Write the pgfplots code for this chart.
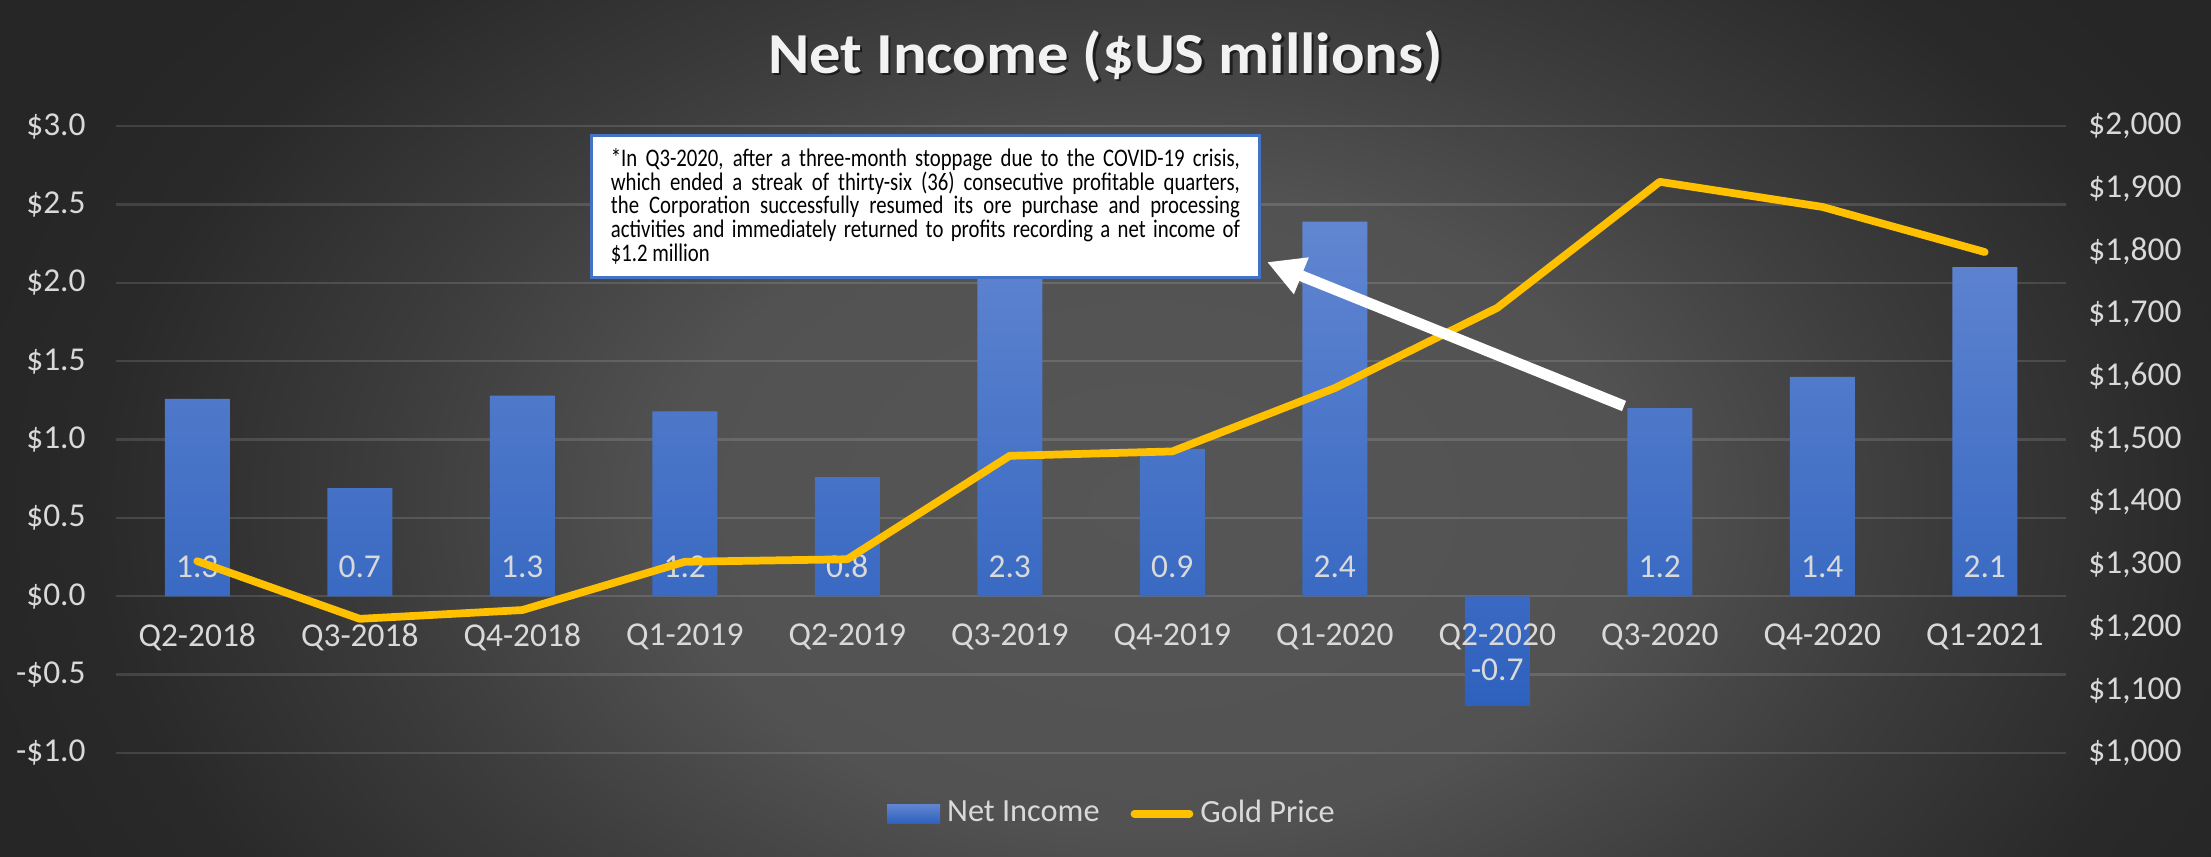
\documentclass[border=0pt]{standalone}
\usepackage{pgfplots}
\pgfplotsset{compat=1.18}
\usepackage{pgfplotstable}
\usepackage{fontspec}
\setmainfont{Carlito}
\newfontfamily\boxfont[FakeStretch=0.82]{Carlito}
\newfontfamily\titlefont[FakeStretch=1.08]{Carlito}
\usetikzlibrary{arrows.meta}

\definecolor{bgDark}{HTML}{262626}
\definecolor{bgMid}{HTML}{3C3C3C}
\definecolor{bgLight}{HTML}{565656}
\definecolor{barTop}{HTML}{6186D1}
\definecolor{barBot}{HTML}{2E61BE}
\definecolor{gold}{HTML}{FFC000}
\definecolor{ticktext}{HTML}{D9D9D9}
\definecolor{titletext}{HTML}{F2F2F2}
\definecolor{boxblue}{HTML}{4472C4}

\pgfdeclareradialshading{chartbg}{\pgfpoint{0bp}{0bp}}{%
  color(0bp)=(bgLight); color(10bp)=(bgLight!85!bgMid);
  color(16bp)=(bgMid); color(22bp)=(bgDark!85!bgMid);
  color(25bp)=(bgDark); color(50bp)=(bgDark)}

% quarter index, net income ($M), label height, gold price ($/oz)
\pgfplotstableread{
x val pos gold
0 1.26 0.19 1306
1 0.69 0.19 1214
2 1.28 0.19 1228
3 1.18 0.19 1305
4 0.76 0.19 1309
5 2.30 0.19 1474
6 0.94 0.19 1481
7 2.39 0.19 1582
8 -0.70 -0.47 1710
9 1.20 0.19 1911
10 1.40 0.19 1871
11 2.10 0.19 1799
}\quarterly

\begin{document}
\begin{tikzpicture}
\useasboundingbox (0,0) rectangle (22.11,8.56);
\begin{scope}
  \clip (0,0) rectangle (22.11,8.56);
  \shade[shading=chartbg] (-0.5,-4.5) rectangle (23.5,11.5);
\end{scope}

% title
\node[text=black, opacity=0.55, font=\titlefont\fontsize{16.5}{18}\selectfont\bfseries, anchor=base]
  at (11.08,7.81) {Net Income (\$US millions)};
\node[text=titletext, font=\titlefont\fontsize{16.5}{18}\selectfont\bfseries, anchor=base]
  at (11.055,7.83) {Net Income (\$US millions)};

\begin{axis}[
    at={(1.16cm,1.03cm)}, anchor=south west,
    scale only axis, width=19.5cm, height=6.27cm,
    xmin=-0.5, xmax=11.5, ymin=-1, ymax=3,
    axis x line*=middle, axis y line*=left,
    axis line style={draw=none},
    major tick length=0,
    xtick=\empty,
    ytick={-1,-0.5,...,3},
    yticklabels={-\$1.0,-\$0.5,\$0.0,\$0.5,\$1.0,\$1.5,\$2.0,\$2.5,\$3.0},
    ymajorgrids,
    major grid style={white, opacity=0.13, line width=0.7pt},
    tick label style={text=ticktext, font=\fontsize{9.5}{11}\selectfont},
    y tick label style={xshift=-1.8mm},
    /pgf/number format/assume math mode=true,
    clip=false,
  ]
  \addplot[ybar, bar width=0.65cm, draw=none, top color=barTop, bottom color=barBot]
    table[x=x, y=val] {\quarterly};
  \addplot[draw=none, mark=none,
    nodes near coords={\pgfmathprintnumber[fixed, fixed zerofill, precision=1, assume math mode=true]{\pgfplotspointmeta}},
    nodes near coords align={anchor=center},
    every node near coord/.append style={text=ticktext, font=\fontsize{9.5}{11}\selectfont, anchor=center},
    point meta=explicit]
    table[x=x, y=pos, meta=val] {\quarterly};
\end{axis}

% second axis: gold price, and the quarter labels drawn over the bars
\begin{axis}[
    at={(1.16cm,1.03cm)}, anchor=south west,
    scale only axis, width=19.5cm, height=6.27cm,
    xmin=-0.5, xmax=11.5, ymin=1000, ymax=2000,
    axis x line*=bottom, axis y line*=right,
    axis line style={draw=none},
    major tick length=0,
    xtick={0,...,11},
    xticklabels={Q2-2018,Q3-2018,Q4-2018,Q1-2019,Q2-2019,Q3-2019,Q4-2019,Q1-2020,Q2-2020,Q3-2020,Q4-2020,Q1-2021},
    x tick label style={yshift=1.4175cm},
    ytick={1000,1100,...,2000},
    yticklabels={\$1{,}000,\$1{,}100,\$1{,}200,\$1{,}300,\$1{,}400,\$1{,}500,\$1{,}600,\$1{,}700,\$1{,}800,\$1{,}900,\$2{,}000},
    tick label style={text=ticktext, font=\fontsize{9.5}{11}\selectfont},
    y tick label style={xshift=1mm},
    legend style={at={(0.512,-0.097)}, anchor=center, draw=none, fill=none,
      text=ticktext, font=\fontsize{9.2}{11}\selectfont, legend columns=2,
      /tikz/every even column/.append style={column sep=0.24cm}},
    legend cell align=left,
  ]
  \addlegendimage{draw=none, legend image code/.code={
    \shade[draw=none, top color=barTop, bottom color=barBot] (0cm,-0.095cm) rectangle (0.53cm,0.095cm);}}
  \addlegendentry{Net Income}
  \addplot[color=gold, line width=2.2pt, line join=round, line cap=round, mark=none,
    legend image code/.code={\draw[gold, line width=2.2pt, line cap=round] (0cm,0cm) -- (0.55cm,0cm);}]
    table[x=x, y=gold] {\quarterly};
  \addlegendentry{Gold Price}
\end{axis}

% annotation
\draw[white, line width=1.1mm, -{Triangle[length=3.7mm, width=3.7mm]}] (16.24,4.50) -- (12.67,5.94);
\node[draw=boxblue, line width=0.8pt, fill=white, anchor=north west,
  text width=62.9mm, inner xsep=1.95mm, inner ysep=1.3mm, align=justify,
  font=\boxfont\fontsize{7.2}{6.76}\selectfont, text=black]
  at (5.90,7.22) {*In Q3-2020, after a three-month stoppage due to the COVID-19 crisis,\linebreak
  which ended a streak of thirty-six (36) consecutive profitable quarters,\linebreak
  the Corporation successfully resumed its ore purchase and processing\linebreak
  activities and immediately returned to profits recording a net income of\linebreak
  \$1.2 million};
\end{tikzpicture}
\end{document}
